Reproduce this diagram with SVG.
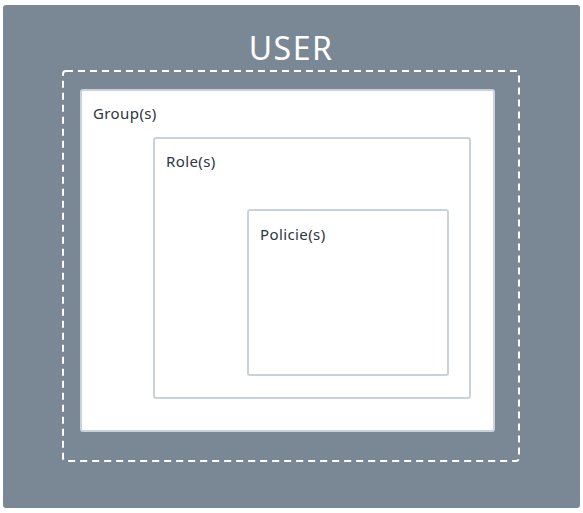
<svg xmlns="http://www.w3.org/2000/svg" width="583" height="513" viewBox="0 0 583 513">
<style>
.box{fill:#ffffff;stroke:#c9d2db;stroke-width:2}
.lbl{font-family:"Noto Sans","Liberation Sans",sans-serif;font-size:15px;letter-spacing:0.4px;fill:#2b3640}
</style>
<rect width="583" height="513" fill="#ffffff"/>
<g id="user">
<rect x="3" y="5" width="577" height="503" rx="3" fill="#7a8896"/>
<text x="291" y="60" text-anchor="middle" font-family="'Noto Sans','Liberation Sans',sans-serif" font-size="32" letter-spacing="1.5" fill="#ffffff">USER</text>
<rect x="63" y="71" width="456" height="390" rx="3" fill="none" stroke="#ffffff" stroke-width="2" stroke-dasharray="7,5"/>
</g>
<g id="groups">
<rect class="box" x="81" y="90" width="413" height="341" rx="2"/>
<text class="lbl" x="93" y="119">Group(s)</text>
</g>
<g id="roles">
<rect class="box" x="154" y="138" width="316" height="260" rx="2"/>
<text class="lbl" x="166" y="167">Role(s)</text>
</g>
<g id="policies">
<rect class="box" x="248" y="210" width="200" height="165" rx="2"/>
<text class="lbl" x="260" y="240">Policie(s)</text>
</g>
<g id="connectors"/>
</svg>
